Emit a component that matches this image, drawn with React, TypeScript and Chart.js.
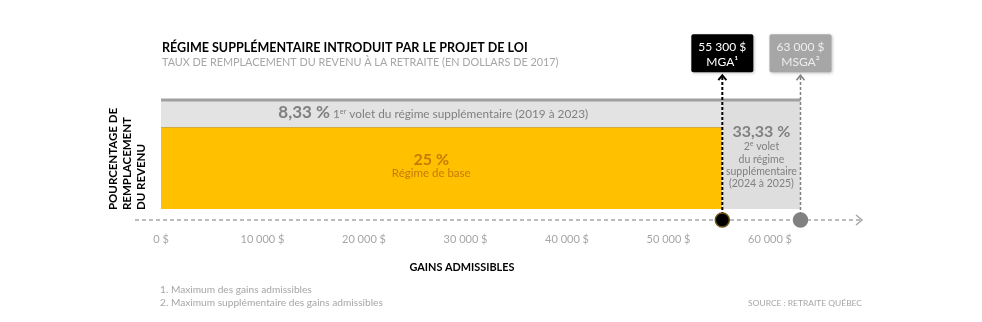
import React, { useEffect, useRef } from "react";
import { Chart, registerables } from "chart.js";
Chart.register(...registerables);

const FAM = "Lato, 'Open Sans', 'DejaVu Sans', sans-serif";

const xTickValues = [0, 10000, 20000, 30000, 40000, 50000, 60000];
const mgaValue = 55300;
const msgaValue = 63000;
const baseRate = 25;
const volet1Rate = 8.33;
const totalRate = 33.33;

const titleText = "RÉGIME SUPPLÉMENTAIRE INTRODUIT PAR LE PROJET DE LOI";
const subtitleText = "TAUX DE REMPLACEMENT DU REVENU À LA RETRAITE (EN DOLLARS DE 2017)";
const yTitleLines = ["POURCENTAGE DE", "REMPLACEMENT", "DU REVENU"];
const xTitleText = "GAINS ADMISSIBLES";
const footnotes = ["1. Maximum des gains admissibles", "2. Maximum supplémentaire des gains admissibles"];
const sourceText = "SOURCE : RETRAITE QUÉBEC";
const baseLabel = "Régime de base";
const volet1Label = " volet du régime supplémentaire (2019 à 2023)";
const volet2Lines = ["du régime", "supplémentaire", "(2024 à 2025)"];
const mgaLabel = ["55 300 $", "MGA¹"];
const msgaLabel = ["63 000 $", "MSGA²"];

const X_MIN = -2560;
const X_MAX = 69060;
const Y_MIN = -3.36;
const Y_MAX = 53.2;
const ARROW_TOP = 40.9;

function fmt(v: number) {
  return String(v).replace(/\B(?=(\d{3})+(?!\d))/g, " ") + " $";
}

function fmtPct(v: number) {
  return String(v).replace(".", ",") + " %";
}

function fitSize(ctx: CanvasRenderingContext2D, text: string, weight: string, target: number) {
  ctx.font = `${weight} 100px ${FAM}`;
  return (100 * target) / ctx.measureText(text).width;
}

function put(
  ctx: CanvasRenderingContext2D,
  text: string,
  x: number,
  y: number,
  weight: string,
  size: number,
  color: string,
  align: CanvasTextAlign = "left"
) {
  ctx.font = `${weight} ${size}px ${FAM}`;
  ctx.fillStyle = color;
  ctx.textAlign = align;
  ctx.textBaseline = "alphabetic";
  ctx.fillText(text, x, y);
}

type Run = { t: string; w: string; s: number; c: string; dy?: number };
function runs(ctx: CanvasRenderingContext2D, items: Run[], cx: number, y: number) {
  let total = 0;
  const widths = items.map((r) => {
    ctx.font = `${r.w} ${r.s}px ${FAM}`;
    const w = ctx.measureText(r.t).width;
    total += w;
    return w;
  });
  let x = cx - total / 2;
  items.forEach((r, i) => {
    put(ctx, r.t, x, y + (r.dy || 0), r.w, r.s, r.c, "left");
    x += widths[i];
  });
}

const axisPlugin = {
  id: "axisLine",
  beforeDatasetsDraw(chart: any) {
    const ctx: CanvasRenderingContext2D = chart.ctx;
    const area = chart.chartArea;
    ctx.save();
    ctx.strokeStyle = "#A6A6A6";
    ctx.lineWidth = 1.5;
    ctx.setLineDash([4, 3]);
    ctx.beginPath();
    ctx.moveTo(area.left, area.bottom);
    ctx.lineTo(area.right, area.bottom);
    ctx.stroke();
    ctx.setLineDash([]);
    ctx.beginPath();
    ctx.moveTo(area.right - 6, area.bottom - 5);
    ctx.lineTo(area.right, area.bottom);
    ctx.lineTo(area.right - 6, area.bottom + 5);
    ctx.stroke();
    ctx.restore();
  },
};

const annotPlugin = {
  id: "annot",
  afterDatasetsDraw(chart: any) {
    const ctx: CanvasRenderingContext2D = chart.ctx;
    const xs = chart.scales.x;
    const ys = chart.scales.y;
    ctx.save();

    // marker arrows + boxes
    const markers = [
      { v: mgaValue, lbl: mgaLabel, fill: "#000000", txt: "#FFFFFF", line: "#000000", lw: 2 },
      { v: msgaValue, lbl: msgaLabel, fill: "#A6A6A6", txt: "#EDEDED", line: "#7F7F7F", lw: 1.5 },
    ];
    const topPx = ys.getPixelForValue(ARROW_TOP);
    markers.forEach((m) => {
      const px = xs.getPixelForValue(m.v);
      ctx.strokeStyle = m.line;
      ctx.lineWidth = m.lw;
      ctx.beginPath();
      ctx.moveTo(px - 4, topPx + 5);
      ctx.lineTo(px, topPx);
      ctx.lineTo(px + 4, topPx + 5);
      ctx.stroke();
      const bw = 62;
      const bh = 38;
      const by = topPx - 3 - bh;
      ctx.shadowColor = "rgba(0,0,0,0.25)";
      ctx.shadowBlur = 3;
      ctx.shadowOffsetX = 1;
      ctx.shadowOffsetY = 1;
      ctx.fillStyle = m.fill;
      ctx.beginPath();
      ctx.roundRect(px - bw / 2, by, bw, bh, 2);
      ctx.fill();
      ctx.shadowColor = "transparent";
      put(ctx, m.lbl[0], px, by + 17, "normal", 12, m.txt, "center");
      put(ctx, m.lbl[1], px, by + 32, "normal", 12, m.txt, "center");
    });

    // title, subtitle
    const tS = fitSize(ctx, titleText, "bold", 366);
    put(ctx, titleText, 162, 52, "bold", tS, "#000000");
    const sS = fitSize(ctx, subtitleText, "normal", 397);
    put(ctx, subtitleText, 162, 66, "normal", sS, "#A6A6A6");

    // y title (rotated)
    const yS = fitSize(ctx, yTitleLines[0], "bold", 102);
    const yBase = [117, 131, 145];
    yTitleLines.forEach((l, i) => {
      ctx.save();
      ctx.translate(yBase[i], 210);
      ctx.rotate(-Math.PI / 2);
      put(ctx, l, 0, 0, "bold", yS, "#000000", "left");
      ctx.restore();
    });

    // segment labels
    const midBase = xs.getPixelForValue(0) + (xs.getPixelForValue(mgaValue) - xs.getPixelForValue(0)) * 0.485;
    runs(
      ctx,
      [
        { t: fmtPct(volet1Rate), w: "bold", s: 17, c: "#7F7F7F" },
        { t: " 1", w: "normal", s: 11.8, c: "#7F7F7F" },
        { t: "er", w: "normal", s: 7.3, c: "#7F7F7F", dy: -4.5 },
        { t: volet1Label, w: "normal", s: 11.8, c: "#7F7F7F" },
      ],
      midBase,
      118
    );
    put(ctx, fmtPct(baseRate), midBase - 2, 165, "bold", 16, "#C77A08", "center");
    put(ctx, baseLabel, midBase - 2, 177, "normal", 11.5, "#C77A08", "center");

    const mid2 = (xs.getPixelForValue(mgaValue) + xs.getPixelForValue(msgaValue)) / 2;
    const v2S = fitSize(ctx, volet2Lines[1], "normal", 71);
    put(ctx, fmtPct(totalRate), mid2, 137, "bold", 16, "#808080", "center");
    runs(
      ctx,
      [
        { t: "2", w: "normal", s: v2S, c: "#808080" },
        { t: "e", w: "normal", s: 7, c: "#808080", dy: -4 },
        { t: " volet", w: "normal", s: v2S, c: "#808080" },
      ],
      mid2,
      150
    );
    volet2Lines.forEach((l, i) => {
      put(ctx, l, mid2, 162.5 + i * 12.3, "normal", v2S, "#808080", "center");
    });

    // x title
    const xtS = fitSize(ctx, xTitleText, "bold", 105);
    put(ctx, xTitleText, 462, 271, "bold", xtS, "#000000", "center");

    // footnotes & source
    const fS = fitSize(ctx, footnotes[1], "normal", 223);
    put(ctx, footnotes[0], 160, 293, "normal", fS, "#A6A6A6");
    put(ctx, footnotes[1], 160, 306, "normal", fS, "#A6A6A6");
    const srcS = fitSize(ctx, sourceText, "normal", 114);
    put(ctx, sourceText, 862, 306, "normal", srcS, "#A6A6A6", "right");

    ctx.restore();
  },
};

export default function App() {
  const ref = useRef<HTMLCanvasElement | null>(null);
  useEffect(() => {
    document.body.style.margin = "0";
    const canvas = ref.current!;
    const chart = new Chart(canvas, {
      type: "line",
      data: {
        datasets: [
          {
            label: "base",
            data: [
              { x: 0, y: baseRate },
              { x: mgaValue, y: baseRate },
            ],
            fill: "origin",
            backgroundColor: "#FFC000",
            borderColor: "#C99A06",
            borderWidth: 1.5,
            pointRadius: 0,
            order: 5,
          },
          {
            label: "volet1",
            data: [
              { x: 0, y: baseRate + volet1Rate },
              { x: mgaValue, y: baseRate + volet1Rate },
            ],
            fill: "-1",
            backgroundColor: "#E3E3E3",
            borderColor: "#A0A0A0",
            borderWidth: 3,
            pointRadius: 0,
            order: 4,
          },
          {
            label: "volet2",
            data: [
              { x: mgaValue, y: totalRate },
              { x: msgaValue, y: totalRate },
            ],
            fill: "origin",
            backgroundColor: "#DEDEDE",
            borderColor: "#A0A0A0",
            borderWidth: 3,
            pointRadius: 0,
            order: 4,
          },
          {
            label: "mga",
            data: [
              { x: mgaValue, y: Y_MIN },
              { x: mgaValue, y: ARROW_TOP },
            ],
            fill: false,
            borderColor: "#000000",
            borderWidth: 2,
            borderDash: [3, 2],
            pointRadius: 0,
            clip: false,
            order: 2,
          },
          {
            label: "msga",
            data: [
              { x: msgaValue, y: Y_MIN },
              { x: msgaValue, y: ARROW_TOP },
            ],
            fill: false,
            borderColor: "#7F7F7F",
            borderWidth: 1.5,
            borderDash: [3, 2],
            pointRadius: 0,
            clip: false,
            order: 2,
          },
          {
            label: "dots",
            data: [
              { x: mgaValue, y: Y_MIN },
              { x: msgaValue, y: Y_MIN },
            ],
            showLine: false,
            fill: false,
            pointRadius: 7,
            pointBackgroundColor: ["#000000", "#808080"],
            pointBorderColor: ["#6B5418", "#808080"],
            pointBorderWidth: 1.5,
            clip: false,
            order: 1,
          },
        ] as any,
      },
      options: {
        animation: false,
        responsive: false,
        maintainAspectRatio: false,
        events: [],
        layout: { padding: { left: 135, right: 120, top: 35, bottom: 0 } },
        plugins: {
          legend: { display: false },
          tooltip: { enabled: false },
          title: { display: false },
        },
        scales: {
          x: {
            type: "linear",
            min: X_MIN,
            max: X_MAX,
            grid: { display: false, drawTicks: false },
            border: { display: false },
            ticks: {
              color: "#A6A6A6",
              font: { family: FAM, size: 11 },
              padding: 13,
              maxRotation: 0,
              autoSkip: false,
              callback: (v: any) => fmt(Number(v)),
            },
            afterBuildTicks: (s: any) => {
              s.ticks = xTickValues.map((v) => ({ value: v }));
            },
            afterFit: (s: any) => {
              s.height = 102;
            },
          },
          y: { display: false, min: Y_MIN, max: Y_MAX },
        },
      } as any,
      plugins: [axisPlugin, annotPlugin],
    });
    return () => chart.destroy();
  }, []);
  return (
    <div style={{ width: 982, height: 322, background: "#FFFFFF" }}>
      <canvas ref={ref} width={982} height={322} style={{ display: "block" }} />
    </div>
  );
}
